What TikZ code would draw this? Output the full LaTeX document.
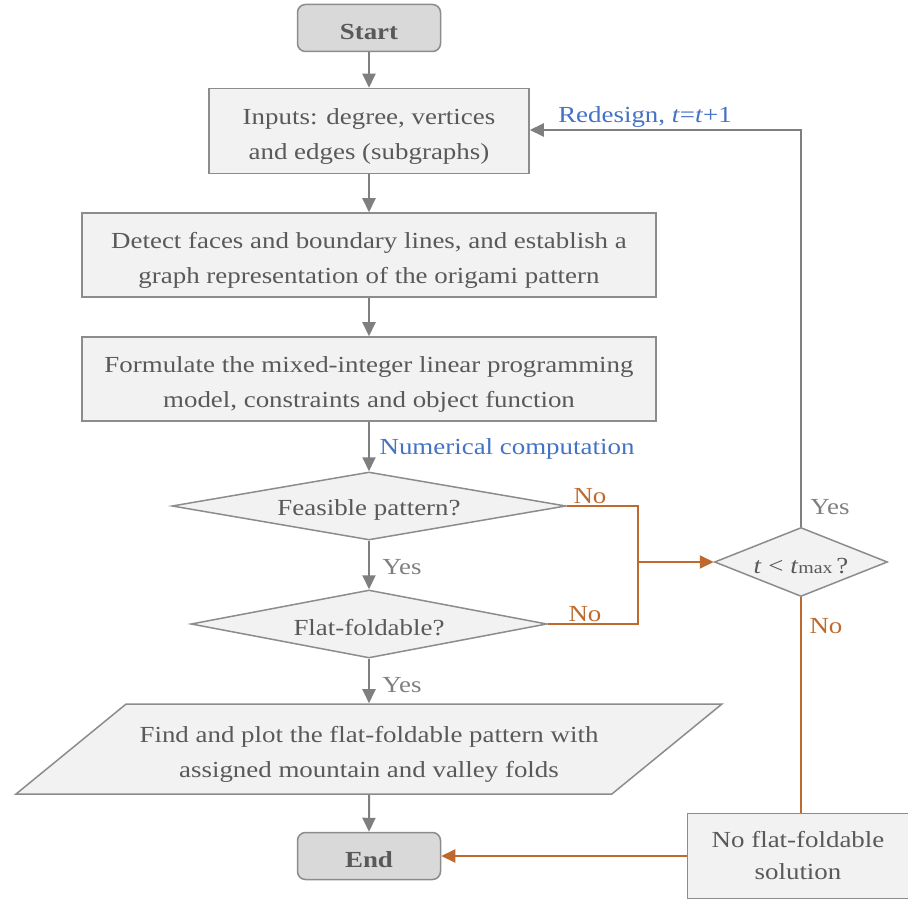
\documentclass[tikz,border=0pt]{standalone}
\usepackage{fontspec}
\setmainfont{Liberation Serif}[FakeStretch=1.17]
\usetikzlibrary{shapes.geometric,arrows.meta}
\definecolor{lgray}{HTML}{7F7F7F}
\definecolor{bgray}{HTML}{8C8C8C}
\definecolor{txtgray}{HTML}{595959}
\definecolor{fillbox}{HTML}{F2F2F2}
\definecolor{filltermin}{HTML}{D9D9D9}
\definecolor{orng}{HTML}{BE6A2E}
\definecolor{blu}{HTML}{4472C4}
\newcommand{\mystrut}{\rule{0pt}{23pt}}
\newcommand{\bstrut}{\rule{0pt}{26pt}}
\begin{document}
\begin{tikzpicture}[x=1pt,y=-1pt,
  every node/.style={font=\fontsize{23}{35}\selectfont, text=txtgray, execute at begin node=\mystrut},
  termin/.style={draw=bgray, fill=filltermin, line width=1.5pt, rounded corners=8pt, minimum width=143pt, minimum height=47pt, inner sep=0pt, font=\fontsize{23}{35}\selectfont\bfseries},
  procbox/.style={draw=bgray, fill=fillbox, line width=1.5pt, align=center, inner sep=0pt},
  decis/.style={draw=bgray, fill=fillbox, line width=1.5pt, diamond, inner sep=0pt},
  garrow/.style={draw=lgray, line width=2pt, -{Triangle[length=14pt,width=13pt]}},
  oarrow/.style={draw=orng, line width=2pt, -{Triangle[length=14pt,width=13pt]}},
  oline/.style={draw=orng, line width=2pt},
  ylab/.style={text=lgray},
  nlab/.style={text=orng},
  blab/.style={text=blu}
]
\useasboundingbox (0,0) rectangle (908,901);

\node[termin] (start) at (369,28) {Start};
\node[procbox, minimum width=320pt, minimum height=85pt] (inputs) at (369,131) {\bstrut Inputs: degree, vertices\\and edges (subgraphs)};
\node[procbox, minimum width=574pt, minimum height=84pt] (detect) at (369,255) {\bstrut Detect faces and boundary lines, and establish a\\graph representation of the origami pattern};
\node[procbox, minimum width=574pt, minimum height=84pt] (form) at (369,379) {\bstrut Formulate the mixed-integer linear programming\\model, constraints and object function};
\node[decis, shape aspect=5.8, minimum width=394pt, minimum height=68pt] (feas) at (369,506) {Feasible pattern?};
\node[decis, shape aspect=5.2, minimum width=356pt, minimum height=68pt] (flat) at (369,624) {Flat-foldable?};
\node[draw=bgray, fill=fillbox, line width=1.5pt, trapezium, trapezium left angle=32.4, trapezium right angle=147.6, trapezium stretches=true, minimum width=708pt, minimum height=90pt, inner sep=0pt, align=center] (find) at (369,749) {\bstrut Find and plot the flat-foldable pattern with\\assigned mountain and valley folds};
\node[termin] (end) at (369,856) {End};
\node[procbox, minimum width=221pt, minimum height=85pt, font=\fontsize{23}{32}\selectfont] (nosol) at (798,856) {No flat-foldable\\solution};
\node[decis, shape aspect=2.5, minimum width=173pt, minimum height=69pt] (tmax) at (801,562) {\textit{t} < \textit{t}{\fontsize{17}{17}\selectfont max}\,?};

\coordinate (junc) at (638,562);
\coordinate (corner) at (801,130);

\draw[garrow] (start) -- (inputs);
\draw[garrow] (inputs) -- (detect);
\draw[garrow] (detect) -- (form);
\draw[garrow] (form) -- (feas);
\draw[garrow] (feas) -- (flat);
\draw[garrow] (flat) -- (find);
\draw[garrow] (find) -- (end);
\draw[oarrow] (nosol) -- (end);
\draw[oline] (tmax.south) -- (tmax.south |- nosol.north);
\draw[oline] (feas.east) -| (junc);
\draw[oline] (flat.east) -| (junc);
\draw[oarrow] (junc) -- (tmax);
\draw[garrow] (tmax.north) |- (inputs.east |- corner);

\node[blab] (redes) at (645,113) {Redesign, \textit{t}=\textit{t}+1};
\node[blab] (numc) at (507,445) {Numerical computation};
\node[ylab] (y1) at (402,563) {Yes};
\node[ylab] (y2) at (402,681) {Yes};
\node[ylab] (y3) at (830,503) {Yes};
\node[nlab] (n1) at (590,492) {No};
\node[nlab] (n2) at (585,610) {No};
\node[nlab] (n3) at (826,622) {No};
\end{tikzpicture}
\end{document}
